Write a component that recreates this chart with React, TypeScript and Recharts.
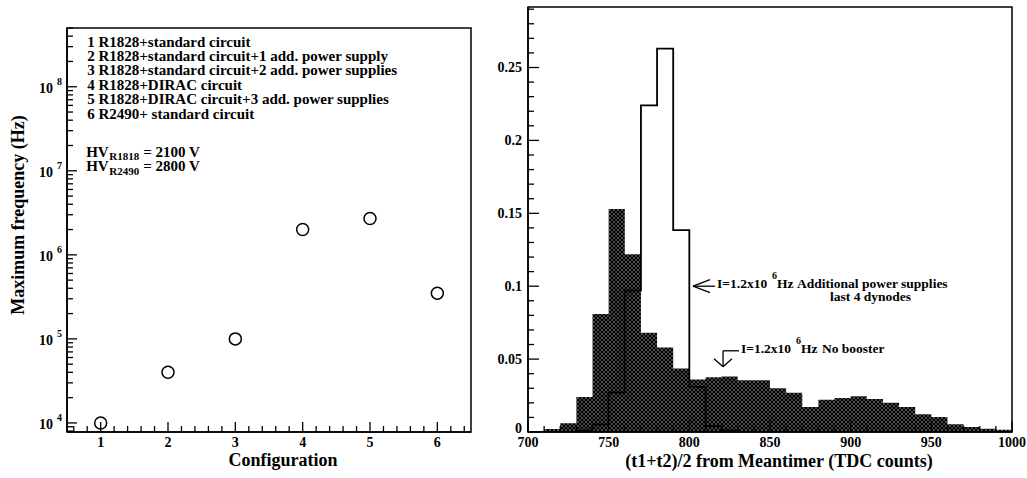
import React from 'react';
import {
  ScatterChart, Scatter, ComposedChart, Area, Line, XAxis, YAxis,
  ReferenceArea, ReferenceLine, ReferenceDot,
} from 'recharts';

// left panel: maximum rate per configuration
const configs = [1, 2, 3, 4, 5, 6];
const maxFreq = [1.0e4, 4.0e4, 1.0e5, 2.0e6, 2.7e6, 3.5e5];
const configLabels = [
  'R1828+standard circuit',
  'R1828+standard circuit+1 add. power supply',
  'R1828+standard circuit+2 add. power supplies',
  'R1828+DIRAC circuit',
  'R1828+DIRAC circuit+3 add. power supplies',
  'R2490+ standard circuit',
];

// right panel: meantimer histograms, 10-count bins from 700 to 1000
const binEdges = [
  700, 710, 720, 730, 740, 750, 760, 770, 780, 790, 800, 810, 820, 830, 840, 850,
  860, 870, 880, 890, 900, 910, 920, 930, 940, 950, 960, 970, 980, 990, 1000,
];
const noBooster = [
  0.0005, 0.002, 0.006, 0.024, 0.081, 0.153, 0.122, 0.068, 0.058, 0.0435,
  0.036, 0.0375, 0.038, 0.0355, 0.0355, 0.030, 0.027, 0.0172, 0.0222, 0.0234,
  0.0245, 0.0227, 0.0201, 0.0172, 0.0121, 0.0103, 0.0053, 0.0034, 0.0023, 0.0016,
];
const addSupplies = [
  0, 0, 0, 0.001, 0.005, 0.027, 0.097, 0.224, 0.263, 0.1385,
  0.031, 0.004, 0.001, 0, 0, 0, 0, 0, 0, 0,
  0, 0, 0, 0, 0, 0, 0, 0, 0, 0,
];

const leftXTicks = Array.from({ length: 30 }, (_, i) => +(0.6 + 0.2 * i).toFixed(1));
const leftYTicks: number[] = [];
for (let d = 3; d <= 8; d++) {
  for (let m = 1; m <= 9; m++) {
    const v = m * Math.pow(10, d);
    if (v >= 7800 && v <= 5e8) leftYTicks.push(v);
  }
}
const rightXTicks = Array.from({ length: 31 }, (_, i) => 700 + 10 * i);
const rightYTicks = Array.from({ length: 30 }, (_, i) => +(0.01 * i).toFixed(2));

const points = configs.map((c, i) => ({ cfg: c, freq: maxFreq[i] }));
const histData = binEdges.map((x, i) => ({
  x,
  nb: i < noBooster.length ? noBooster[i] : 0,
  ap: i < addSupplies.length ? addSupplies[i] : 0,
}));

const FONT = '"Liberation Serif", "Times New Roman", serif';
const bold = { fontFamily: FONT, fontWeight: 'bold' as const };

const isInt = (v: number, k = 1) => Math.abs(v * k - Math.round(v * k)) < 1e-6;

const LeftXTick = ({ x, y, payload }: any) => {
  const major = isInt(payload.value);
  return (
    <g>
      <line x1={x} y1={y} x2={x} y2={y - (major ? 10 : 6)} stroke="#000" strokeWidth={1.3} />
      {major && (
        <text x={x} y={y + 15} textAnchor="middle" fontSize={14} fill="#000" style={bold}>
          {Math.round(payload.value)}
        </text>
      )}
    </g>
  );
};

const LeftYTick = ({ x, y, payload }: any) => {
  const exp = Math.log10(payload.value);
  const major = isInt(exp);
  return (
    <g>
      <line x1={x} y1={y} x2={x + (major ? 10 : 6)} y2={y} stroke="#000" strokeWidth={1.3} />
      {major && (
        <g style={bold} fill="#000">
          <text x={x - 14} y={y + 6} textAnchor="end" fontSize={14}>10</text>
          <text x={x - 10} y={y - 2} fontSize={10}>{Math.round(exp)}</text>
        </g>
      )}
    </g>
  );
};

const RightXTick = ({ x, y, payload }: any) => {
  const major = isInt(payload.value / 50);
  return (
    <g>
      <line x1={x} y1={y} x2={x} y2={y - (major ? 11 : 6)} stroke="#000" strokeWidth={1.3} />
      {major && (
        <text x={x} y={y + 15} textAnchor="middle" fontSize={14} fill="#000" style={bold}>
          {payload.value}
        </text>
      )}
    </g>
  );
};

const RightYTick = ({ x, y, payload }: any) => {
  const major = isInt(payload.value, 20);
  return (
    <g>
      <line x1={x} y1={y} x2={x + (major ? 11 : 6)} y2={y} stroke="#000" strokeWidth={1.3} />
      {major && (
        <text x={x - 6} y={payload.value === 0 ? y + 1 : y + 4.5} textAnchor="end" fontSize={14} fill="#000" style={bold}>
          {String(+payload.value.toFixed(2))}
        </text>
      )}
    </g>
  );
};

const leftXTitle = (p: any) => {
  const { x, y, width } = p.viewBox;
  return (
    <text x={x + width / 2 + 14} y={y + 34} textAnchor="middle" fontSize={18} fill="#000" style={bold}>
      Configuration
    </text>
  );
};

const leftYTitle = (p: any) => {
  const { x, y, height } = p.viewBox;
  const cx = x + 11;
  const cy = y + height / 2 - 15;
  return (
    <text x={cx} y={cy} transform={`rotate(-90 ${cx} ${cy})`} textAnchor="middle"
      dominantBaseline="central" fontSize={18} fill="#000" style={bold}>
      Maximum frequency (Hz)
    </text>
  );
};

const rightXTitle = (p: any) => {
  const { x, y, width } = p.viewBox;
  return (
    <text x={x + width / 2 + 9} y={y + 35} textAnchor="middle" fontSize={18} fill="#000" style={bold}>
      (t1+t2)/2 from Meantimer (TDC counts)
    </text>
  );
};

const legendBlock = (p: any) => {
  const { x, y } = p.viewBox;
  return (
    <g style={bold} fill="#000" fontSize={15}>
      {configLabels.map((s, i) => (
        <text key={i} x={x} y={y + i * 14.4}>{`${i + 1} ${s}`}</text>
      ))}
      <text x={x - 1} y={y + 110}>HV</text>
      <text x={x + 22} y={y + 113} fontSize={11}>R1818</text>
      <text x={x + 56} y={y + 110}>= 2100 V</text>
      <text x={x - 1} y={y + 124}>HV</text>
      <text x={x + 22} y={y + 128} fontSize={11}>R2490</text>
      <text x={x + 56} y={y + 124}>= 2800 V</text>
    </g>
  );
};

const annotAdd = (p: any) => {
  const { x, y } = p.viewBox;
  return (
    <g style={bold} fill="#000" fontSize={13.5}>
      <text x={x} y={y}>I=1.2x10</text>
      <text x={x + 55} y={y - 9} fontSize={10}>6</text>
      <text x={x + 60} y={y}>Hz</text>
      <text x={x + 80} y={y}>Additional power supplies</text>
      <text x={x + 113} y={y + 13.5}>last 4 dynodes</text>
    </g>
  );
};

const annotNone = (p: any) => {
  const { x, y } = p.viewBox;
  return (
    <g style={bold} fill="#000" fontSize={13.5}>
      <text x={x} y={y}>I=1.2x10</text>
      <text x={x + 55} y={y - 9} fontSize={10}>6</text>
      <text x={x + 60} y={y}>Hz</text>
      <text x={x + 81} y={y}>No booster</text>
    </g>
  );
};

const OpenCircle = ({ cx, cy }: any) => (
  <circle cx={cx} cy={cy} r={6} fill="none" stroke="#000" strokeWidth={1.5} />
);

const arrowStyle = { stroke: '#000', strokeWidth: 1.3 };

const App: React.FC = () => {
  return (
    <div style={{ position: 'absolute', left: 0, top: 0, width: 1027, height: 478, background: '#fff' }}>
      <div style={{ position: 'absolute', left: 0, top: 0 }}>
        <ScatterChart width={480} height={478} margin={{ top: 28, right: 9, bottom: 16, left: 7 }}>
          <XAxis
            type="number"
            dataKey="cfg"
            domain={[0.5, 6.5]}
            allowDataOverflow
            ticks={leftXTicks}
            interval={0}
            tick={LeftXTick}
            tickLine={false}
            tickSize={0}
            tickMargin={0}
            height={30}
            stroke="#000"
            strokeWidth={1.5}
            label={leftXTitle}
          />
          <YAxis
            type="number"
            dataKey="freq"
            scale="log"
            domain={[7800, 5e8]}
            allowDataOverflow
            ticks={leftYTicks}
            interval={0}
            tick={LeftYTick}
            tickLine={false}
            tickSize={0}
            tickMargin={0}
            width={60}
            stroke="#000"
            strokeWidth={1.5}
            label={leftYTitle}
          />
          <ReferenceArea x1={0.5} x2={6.5} y1={7800} y2={5e8} fill="none" stroke="#000" strokeWidth={1.5} ifOverflow="visible" />
          <Scatter data={points} shape={OpenCircle} isAnimationActive={false} />
          <ReferenceDot x={0.8} y={3e8} r={0} fill="none" stroke="none" label={legendBlock} />
        </ScatterChart>
      </div>
      <div style={{ position: 'absolute', left: 470, top: 0 }}>
        <ComposedChart width={557} height={478} data={histData} margin={{ top: 7, right: 15, bottom: 16, left: 0 }}>
          <defs>
            <pattern id="xhatch" patternUnits="userSpaceOnUse" width={4} height={4}>
              <path d="M0,0 L4,4 M4,0 L0,4" stroke="#000" strokeWidth={1.8} />
            </pattern>
          </defs>
          <XAxis
            type="number"
            dataKey="x"
            domain={[700, 1000]}
            allowDataOverflow
            ticks={rightXTicks}
            interval={0}
            tick={RightXTick}
            tickLine={false}
            tickSize={0}
            tickMargin={0}
            height={30}
            stroke="#000"
            strokeWidth={1.5}
            label={rightXTitle}
          />
          <YAxis
            type="number"
            domain={[0, 0.2915]}
            allowDataOverflow
            ticks={rightYTicks}
            interval={0}
            tick={RightYTick}
            tickLine={false}
            tickSize={0}
            tickMargin={0}
            width={58}
            stroke="#000"
            strokeWidth={1.5}
          />
          <Area type="stepAfter" dataKey="nb" stroke="none" fill="url(#xhatch)" fillOpacity={1} isAnimationActive={false} />
          <Line type="stepAfter" dataKey="ap" stroke="#000" strokeWidth={1.8} dot={false} isAnimationActive={false} />
          <ReferenceArea x1={700} x2={1000} y1={0} y2={0.2915} fill="none" stroke="#000" strokeWidth={1.5} ifOverflow="visible" />
          <ReferenceLine segment={[{ x: 802.3, y: 0.1 }, { x: 815.9, y: 0.1 }]} {...arrowStyle} />
          <ReferenceLine segment={[{ x: 802.3, y: 0.1 }, { x: 812.8, y: 0.1045 }]} {...arrowStyle} />
          <ReferenceLine segment={[{ x: 802.3, y: 0.1 }, { x: 812.8, y: 0.0956 }]} {...arrowStyle} />
          <ReferenceLine segment={[{ x: 820.9, y: 0.0557 }, { x: 830.8, y: 0.0557 }]} {...arrowStyle} />
          <ReferenceLine segment={[{ x: 820.9, y: 0.0557 }, { x: 820.9, y: 0.0447 }]} {...arrowStyle} />
          <ReferenceLine segment={[{ x: 815.3, y: 0.0502 }, { x: 820.9, y: 0.0447 }]} {...arrowStyle} />
          <ReferenceLine segment={[{ x: 826.4, y: 0.0502 }, { x: 820.9, y: 0.0447 }]} {...arrowStyle} />
          <ReferenceDot x={817.2} y={0.099} r={0} fill="none" stroke="none" label={annotAdd} />
          <ReferenceDot x={832} y={0.0543} r={0} fill="none" stroke="none" label={annotNone} />
        </ComposedChart>
      </div>
    </div>
  );
};

export default App;
